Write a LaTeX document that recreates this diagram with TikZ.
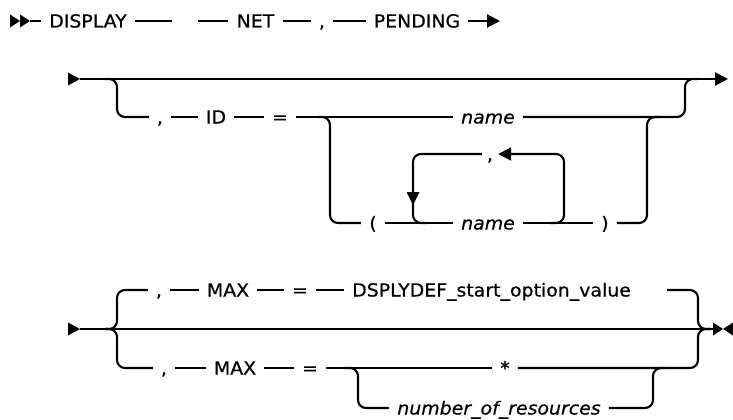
\documentclass[tikz,border=0pt]{standalone}
\usepackage{fontspec}
\setmainfont[FakeStretch=1.05,FakeBold=0.6]{DejaVu Sans}
\usetikzlibrary{arrows.meta}
\begin{document}
\begin{tikzpicture}[x=1pt,y=-1pt,
  rr/.style={line width=2.1pt, rounded corners=8pt},
  tok/.style={inner xsep=8pt, inner ysep=0pt, text height=13pt, text depth=0pt, font=\fontsize{18}{21}\selectfont},
  var/.style={tok, font=\fontsize{18}{21}\selectfont\itshape},
  tipend/.style={-{Triangle[length=13pt,width=13pt]}},
  tipfill/.style={fill=black}
]
\useasboundingbox (0,0) rectangle (733,420);

% ---------- Row 1 ----------
\coordinate (r1s) at (10,21);
\coordinate (r1m) at (20,21);
\coordinate (r1a) at (30,21);
\fill[tipfill] (r1s) ++(0,-6.5) -- ++(10,6.5) -- ++(-10,6.5) -- cycle;
\fill[tipfill] (r1m) ++(0,-6.5) -- ++(10,6.5) -- ++(-10,6.5) -- cycle;
\node[tok] (display) at (88,21) {DISPLAY};
\coordinate (g1) at (172,21);
\coordinate (g2) at (198,21);
\node[tok] (net) at (255.5,21) {NET};
\node[tok] (c1) at (322,21) {,};
\node[tok] (pending) at (417,21) {PENDING};
\coordinate (r1e) at (500,21);
\draw[rr] (r1a) -- (display.west);
\draw[rr] (display.east) -- (g1);
\draw[rr] (g2) -- (net.west);
\draw[rr] (net.east) -- (c1.west);
\draw[rr] (c1.east) -- (pending.west);
\draw[rr,tipend] (pending.east) -- (r1e);

% ---------- Row 2 ----------
\coordinate (r2s) at (68,79);
\coordinate (r2a) at (80,79);
\coordinate (r2e) at (728,79);
\fill[tipfill] (r2s) ++(0,-6.5) -- ++(12,6.5) -- ++(-12,6.5) -- cycle;
\draw[rr,tipend] (r2a) -- (r2e);

\coordinate (b2a) at (105,79);
\coordinate (b2b) at (117,79);
\coordinate (b2c) at (117,117);
\node[tok] (c2) at (160,117) {,};
\node[tok] (id) at (216,117) {ID};
\node[tok] (eq2) at (280,117) {=};
\node[var] (name1) at (488,117) {name};
\coordinate (j2a) at (685,117);
\coordinate (j2b) at (685,79);
\coordinate (j2c) at (697,79);
\draw[rr] (b2a) -- (b2b) -- (b2c) -- (c2.west);
\draw[rr] (c2.east) -- (id.west);
\draw[rr] (id.east) -- (eq2.west);
\draw[rr] (eq2.east) -- (name1.west);
\draw[rr] (name1.east) -- (j2a) -- (j2b) -- (j2c);

\coordinate (s2a) at (318,117);
\coordinate (s2b) at (330,117);
\coordinate (s2c) at (330,223);
\node[tok] (lp) at (373,223) {(};
\node[var] (name2) at (488,223) {name};
\node[tok] (rp) at (605,223) {)};
\coordinate (k2a) at (647,223);
\coordinate (k2b) at (647,117);
\coordinate (k2c) at (659,117);
\draw[rr] (s2a) -- (s2b) -- (s2c) -- (lp.west);
\draw[rr] (lp.east) -- (name2.west);
\draw[rr] (name2.east) -- (rp.west);
\draw[rr] (rp.east) -- (k2a) -- (k2b) -- (k2c);

% repeat loop
\node[tok, inner xsep=5pt] (c3) at (490,154) {,};
\coordinate (lpr1) at (550,223);
\coordinate (lpr2) at (564,223);
\coordinate (lpr3) at (564,154);
\coordinate (lpl1) at (413,154);
\coordinate (lpl2) at (413,223);
\coordinate (lpl3) at (427,223);
\coordinate (dn) at (413,205);
\draw[rr,tipend] (lpr1) -- (lpr2) -- (lpr3) -- (c3.east);
\draw[rr] (c3.west) -- (lpl1) -- (lpl2) -- (lpl3);
\fill[tipfill] (dn) ++(-6.5,-13) -- ++(13,0) -- (dn) -- cycle;

% ---------- Row 3 ----------
\coordinate (r3s) at (68,329);
\coordinate (r3a) at (80,329);
\coordinate (r3e) at (713,329);
\coordinate (r3t) at (723,329);
\fill[tipfill] (r3s) ++(0,-6.5) -- ++(12,6.5) -- ++(-12,6.5) -- cycle;
\draw[rr] (r3a) -- (r3e);
\fill[tipfill] (r3e) ++(0,-6.5) -- (r3t) -- ++(-10,6.5) -- cycle;
\fill[tipfill] (r3t) -- ++(10,-6.5) -- ++(0,13) -- cycle;

\coordinate (b3a) at (105,329);
\coordinate (b3b) at (117,329);
\coordinate (b3c) at (117,290);
\coordinate (b3d) at (117,368);
\node[tok] (c4) at (159,290) {,};
\node[tok] (max1) at (228,290) {MAX};
\node[tok] (eq3) at (300,290) {=};
\node[tok, anchor=west] (dsply) at (344,290) {DSPLYDEF\_start\_option\_value};
\coordinate (d1) at (667,290);
\coordinate (j3a) at (698,290);
\coordinate (j3b) at (698,329);
\coordinate (j3c) at (710,329);
\draw[rr] (b3a) -- (b3b) -- (b3c) -- (c4.west);
\draw[rr] (c4.east) -- (max1.west);
\draw[rr] (max1.east) -- (eq3.west);
\draw[rr] (eq3.east) -- (dsply.west);
\draw[rr] (d1) -- (j3a) -- (j3b) -- (j3c);

\node[tok] (c5) at (164,368) {,};
\node[tok] (max2) at (235,368) {MAX};
\node[tok] (eq4) at (310,368) {=};
\node[tok] (star) at (505,368) {*};
\node[var] (nres) at (499,408) {number\_of\_resources};
\coordinate (j4a) at (698,368);
\draw[rr] (b3a) -- (b3b) -- (b3d) -- (c5.west);
\draw[rr] (c5.east) -- (max2.west);
\draw[rr] (max2.east) -- (eq4.west);
\draw[rr] (eq4.east) -- (star.west);
\draw[rr] (star.east) -- (j4a) -- (j3b) -- (j3c);

\coordinate (s4a) at (345,368);
\coordinate (s4b) at (358,368);
\coordinate (s4c) at (358,408);
\coordinate (k4a) at (653,408);
\coordinate (k4b) at (653,368);
\coordinate (k4c) at (665,368);
\draw[rr] (s4a) -- (s4b) -- (s4c) -- (nres.west);
\draw[rr] (nres.east) -- (k4a) -- (k4b) -- (k4c);
\end{tikzpicture}
\end{document}
